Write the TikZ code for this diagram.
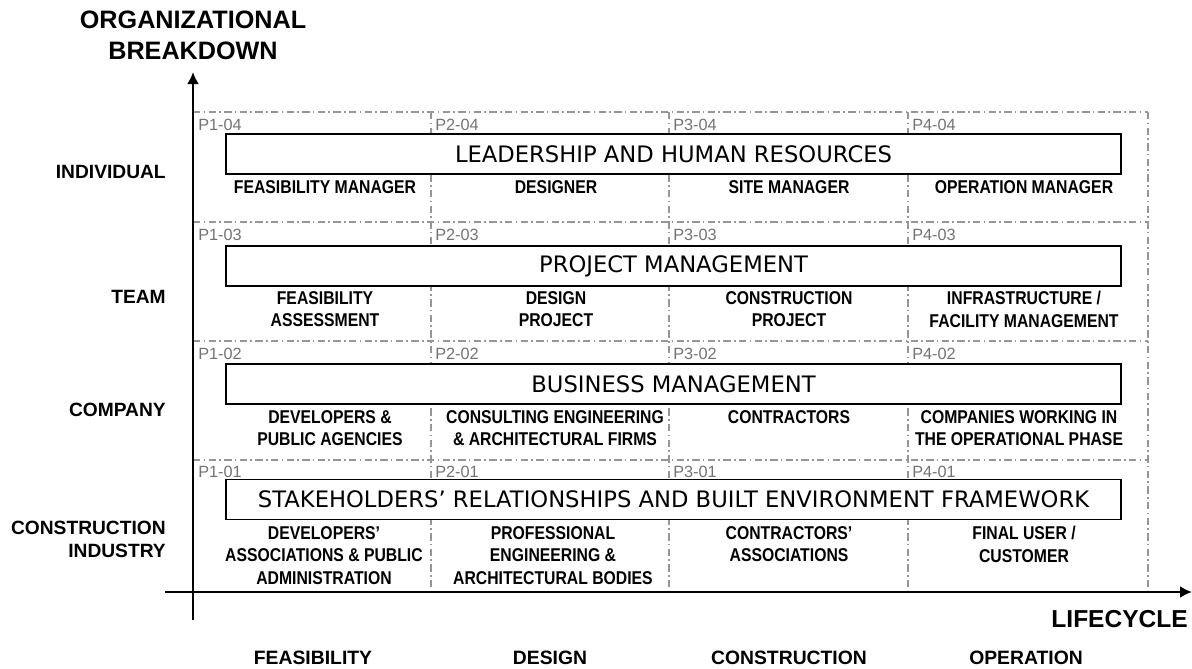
\documentclass[tikz,border=0pt]{standalone}
\usepackage{fontspec}
\setmainfont{Liberation Sans}
\newfontfamily\narrowfont[FakeStretch=0.85]{Liberation Sans}
\newfontfamily\boxfont{DejaVu Sans}
\usetikzlibrary{arrows.meta}

\definecolor{gridgray}{RGB}{150,150,150}
\definecolor{codegray}{RGB}{115,115,115}

\tikzset{
  axis/.style={line width=2.2pt},
  gridline/.style={draw=gridgray, line width=0.9pt,
    dash pattern=on 5.5pt off 2.5pt on 1.2pt off 2.5pt},
  areabox/.style={draw, fill=white, line width=1.4pt, inner sep=0pt,
    minimum width=671.25pt, minimum height=30pt,
    font=\boxfont\fontsize{17}{20}\selectfont},
  code/.style={anchor=west, inner sep=0pt, text=codegray,
    font=\fontsize{12.2}{14}\selectfont},
  role/.style={anchor=north, inner sep=0pt, align=center,
    font=\narrowfont\bfseries\fontsize{13.9}{16.9}\selectfont},
  level/.style={anchor=east, inner sep=0pt, align=right,
    font=\bfseries\fontsize{14.4}{17.5}\selectfont},
  phase/.style={inner sep=0pt, font=\bfseries\fontsize{14.5}{17}\selectfont},
  heading/.style={inner sep=0pt, align=center,
    font=\bfseries\fontsize{18.9}{23.25}\selectfont},
}

\begin{document}
\begin{tikzpicture}[>={Latex[length=9pt,width=9pt]}, x=0.75pt, y=-0.75pt]
\useasboundingbox (0,0) rectangle (1192,668);

% grid of the 16 cells
\draw[gridline] (193,112) -- (1148,112);
\draw[gridline] (193,222) -- (1148,222);
\draw[gridline] (193,341) -- (1148,341);
\draw[gridline] (193,460) -- (1148,460);
\draw[gridline] (431,112) -- (431,592);
\draw[gridline] (669,112) -- (669,592);
\draw[gridline] (908,112) -- (908,592);
\draw[gridline] (1148,112) -- (1148,592);

% axes
\coordinate (ytop)   at (193,72);
\coordinate (ybot)   at (193,620);
\coordinate (xleft)  at (165,592);
\coordinate (xright) at (1192,592);
\draw[axis,->] (ybot) -- (ytop);
\draw[axis,->] (xleft) -- (xright);

\node[heading] (orgbd) at (193,35.5) {ORGANIZATIONAL\\BREAKDOWN};
\node[heading, anchor=east, font=\bfseries\fontsize{18.4}{22}\selectfont] (life) at (1188,619) {LIFECYCLE};

% organizational levels
\node[level] (indiv)   at (166,172)   {INDIVIDUAL};
\node[level] (team)    at (166,297)   {TEAM};
\node[level] (company) at (166,410)   {COMPANY};
\node[level] (constr)  at (166,539.5) {CONSTRUCTION\\INDUSTRY};

% lifecycle phases
\node[phase] (feas)  at (313,658)  {FEASIBILITY};
\node[phase] (desig) at (550,658)  {DESIGN};
\node[phase] (const) at (789,658)  {CONSTRUCTION};
\node[phase] (oper)  at (1026,658) {OPERATION};

% cell codes
\node[code] (p104) at (198,125) {P1-04};
\node[code] (p204) at (435,125) {P2-04};
\node[code] (p304) at (673,125) {P3-04};
\node[code] (p404) at (912,125) {P4-04};
\node[code] (p103) at (198,235) {P1-03};
\node[code] (p203) at (435,235) {P2-03};
\node[code] (p303) at (673,235) {P3-03};
\node[code] (p403) at (912,235) {P4-03};
\node[code] (p102) at (198,354) {P1-02};
\node[code] (p202) at (435,354) {P2-02};
\node[code] (p302) at (673,354) {P3-02};
\node[code] (p402) at (912,354) {P4-02};
\node[code] (p101) at (198,472) {P1-01};
\node[code] (p201) at (435,472) {P2-01};
\node[code] (p301) at (673,472) {P3-01};
\node[code] (p401) at (912,472) {P4-01};

% management areas
\node[areabox] (lead) at (673.5,154)   {LEADERSHIP AND HUMAN RESOURCES};
\node[areabox] (proj) at (673.5,266)   {PROJECT MANAGEMENT};
\node[areabox] (busi) at (673.5,384)   {BUSINESS MANAGEMENT};
\node[areabox] (stak) at (673.5,499.5) {STAKEHOLDERS’ RELATIONSHIPS AND BUILT ENVIRONMENT FRAMEWORK};

% actors in each cell
\node[role] (r104) at (325,180)  {FEASIBILITY MANAGER};
\node[role] (r204) at (556,180)  {DESIGNER};
\node[role] (r304) at (789,180)  {SITE MANAGER};
\node[role] (r404) at (1024,180) {OPERATION MANAGER};

\node[role] (r103) at (325,291)  {FEASIBILITY\\ASSESSMENT};
\node[role] (r203) at (556,291)  {DESIGN\\PROJECT};
\node[role] (r303) at (789,291)  {CONSTRUCTION\\PROJECT};
\node[role] (r403) at (1024,291) {INFRASTRUCTURE /\\FACILITY MANAGEMENT};

\node[role] (r102) at (330,410)  {DEVELOPERS \&\\PUBLIC AGENCIES};
\node[role] (r202) at (555,410)  {CONSULTING ENGINEERING\\\& ARCHITECTURAL FIRMS};
\node[role] (r302) at (789,410)  {CONTRACTORS};
\node[role] (r402) at (1019,410) {COMPANIES WORKING IN\\THE OPERATIONAL PHASE};

\node[role] (r101) at (324,526)  {DEVELOPERS’\\ASSOCIATIONS \& PUBLIC\\ADMINISTRATION};
\node[role] (r201) at (553,526)  {PROFESSIONAL\\ENGINEERING \&\\ARCHITECTURAL BODIES};
\node[role] (r301) at (789,526)  {CONTRACTORS’\\ASSOCIATIONS};
\node[role] (r401) at (1024,526) {FINAL USER /\\CUSTOMER};

\end{tikzpicture}
\end{document}
